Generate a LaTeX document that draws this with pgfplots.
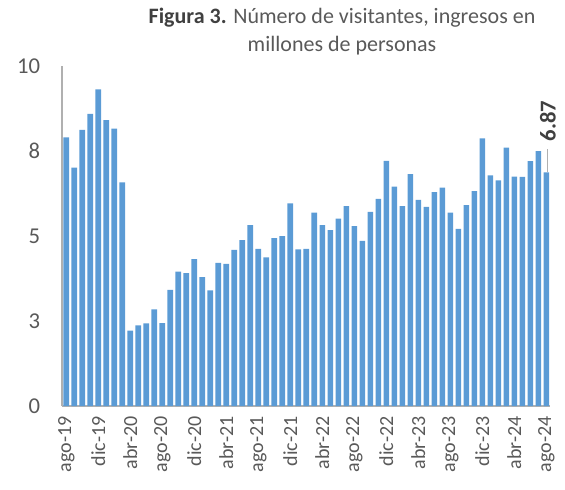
\documentclass[border=0pt]{standalone}
\usepackage{pgfplots}
\pgfplotsset{compat=1.18}
\usepackage{pgfplotstable}
\usepackage{fontspec}
\setmainfont{Carlito}
\definecolor{barblue}{HTML}{5B9BD5}
\definecolor{axgray}{HTML}{B0B0B0}
\definecolor{txtgray}{HTML}{595959}
\definecolor{dark}{HTML}{404040}
\pgfplotstableread{
x y
0 7.90
1 7.01
2 8.12
3 8.59
4 9.31
5 8.41
6 8.16
7 6.58
8 2.22
9 2.37
10 2.43
11 2.84
12 2.44
13 3.42
14 3.95
15 3.91
16 4.32
17 3.79
18 3.40
19 4.21
20 4.18
21 4.59
22 4.88
23 5.32
24 4.62
25 4.37
26 4.94
27 5.00
28 5.96
29 4.61
30 4.62
31 5.69
32 5.32
33 5.17
34 5.51
35 5.88
36 5.29
37 4.86
38 5.71
39 6.09
40 7.21
41 6.45
42 5.88
43 6.82
44 6.06
45 5.86
46 6.29
47 6.42
48 5.69
49 5.21
50 5.91
51 6.32
52 7.87
53 6.78
54 6.64
55 7.60
56 6.75
57 6.74
58 7.20
59 7.50
60 6.87
}\datatable
\begin{document}
\begin{tikzpicture}
\useasboundingbox (-46.7pt,-62.25pt) rectangle (377pt,304.5pt);
\begin{axis}[
  scale only axis,
  width=366pt, height=255pt,
  xmin=-0.5, xmax=60.5,
  ymin=0, ymax=10,
  axis x line*=bottom,
  axis y line*=left,
  axis line style={axgray, line width=1.2pt},
  ytick={0,2.5,5,7.5,10},
  yticklabels={0,3,5,8,10},
  ytick style={draw=none},
  yticklabel style={font=\fontsize{17}{20}\selectfont, text=txtgray, xshift=-13pt},
  xtick={0,4,...,60},
  xticklabels={ago-19,dic-19,abr-20,ago-20,dic-20,abr-21,ago-21,dic-21,abr-22,ago-22,dic-22,abr-23,ago-23,dic-23,abr-24,ago-24},
  xtick style={draw=none},
  xticklabel style={font=\fontsize{15}{18}\selectfont, text=txtgray, rotate=90, anchor=east},
  extra x ticks={-0.5,3.5,...,59.5},
  extra x tick labels={},
  extra x tick style={tick style={draw=axgray, line width=1.2pt}, major tick length=5pt, tick align=outside},
  ybar, bar width=4.2pt,
  clip=false,
]
\addplot[fill=barblue, draw=none] table[x=x,y=y]{\datatable};
\draw[axgray, line width=0.8pt] (axis cs:60.2,6.87) -- (axis cs:60.2,7.56);
\node[rotate=90, anchor=west, font=\fontsize{17}{20}\selectfont\bfseries, text=dark, inner sep=1pt] at (axis cs:60.2,7.74) {6.87};
\end{axis}
\node[align=center, font=\fontsize{16.5}{21}\selectfont, text=txtgray] at (209.8pt,281pt) {{\color{dark}\bfseries Figura 3.} Número de visitantes, ingresos en\\millones de personas};
\end{tikzpicture}
\end{document}
